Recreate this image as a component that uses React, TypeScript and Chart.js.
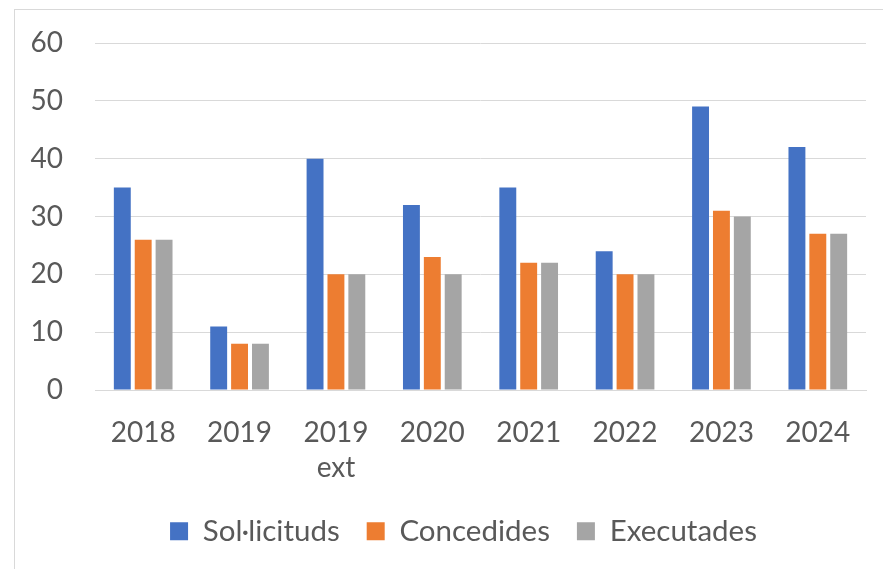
import React, { useEffect, useRef } from "react";
import { Chart, registerables } from "chart.js";

Chart.register(...registerables);

const categories: (string | string[])[] = ["2018", "2019", ["2019", "ext"], "2020", "2021", "2022", "2023", "2024"];
const solLicituds = [35, 11, 40, 32, 35, 24, 49, 42];
const concedides = [26, 8, 20, 23, 22, 20, 31, 27];
const executades = [26, 8, 20, 20, 22, 20, 30, 27];
const yTicks = [0, 10, 20, 30, 40, 50, 60];

const TEXT = "#595959";
const GRID = "#d9d9d9";
const FONT = "Lato, 'Open Sans', sans-serif";

const legendShift = {
  id: "legendShift",
  afterLayout(chart: any) {
    const lg = chart.legend;
    if (lg) {
      lg.left += 23;
      lg.right += 23;
    }
  },
};

export default function App() {
  const ref = useRef<HTMLCanvasElement | null>(null);
  useEffect(() => {
    if (!ref.current) return;
    const chart = new Chart(ref.current, {
      type: "bar",
      data: {
        labels: categories,
        datasets: [
          { label: "Sol·licituds", data: solLicituds, backgroundColor: "#4472C4" },
          { label: "Concedides", data: concedides, backgroundColor: "#ED7D31" },
          { label: "Executades", data: executades, backgroundColor: "#A5A5A5" },
        ],
      },
      plugins: [legendShift],
      options: {
        animation: false,
        responsive: false,
        maintainAspectRatio: false,
        datasets: { bar: { categoryPercentage: 0.65, barPercentage: 0.81 } },
        layout: { padding: { top: 33, right: 17, left: 0, bottom: 13 } },
        plugins: {
          tooltip: { enabled: false },
          legend: {
            position: "bottom",
            labels: {
              boxWidth: 18,
              boxHeight: 18,
              padding: 27,
              color: TEXT,
              font: { family: FONT, size: 29.5 },
            },
          },
        },
        scales: {
          x: {
            grid: { display: false },
            border: { display: true, color: GRID, width: 1 },
            ticks: {
              color: TEXT,
              padding: 17,
              maxRotation: 0,
              font: { family: FONT, size: 28, lineHeight: 1.25 },
            },
            afterFit: (s: any) => {
              s.height = 99.5;
            },
          },
          y: {
            min: 0,
            max: 60,
            afterBuildTicks: (s: any) => {
              s.ticks = yTicks.map((v) => ({ value: v }));
            },
            grid: { color: GRID, lineWidth: 1, drawTicks: false },
            border: { display: false },
            ticks: {
              color: TEXT,
              padding: 32,
              font: { family: FONT, size: 28 },
            },
            afterFit: (s: any) => {
              s.width = 80;
              s.paddingTop = 0;
              s.paddingBottom = 0;
            },
          },
        },
      },
    });
    return () => chart.destroy();
  }, []);
  return (
    <div style={{ position: "absolute", left: 0, top: 0, width: 883, height: 569, overflow: "hidden", background: "#fff" }}>
      <div
        style={{
          position: "absolute",
          left: 14,
          top: 9,
          width: 900,
          height: 600,
          border: "1px solid #d9d9d9",
          boxSizing: "border-box",
        }}
      >
        <canvas ref={ref} width={868} height={559} style={{ display: "block", width: 868, height: 559 }} />
      </div>
    </div>
  );
}
